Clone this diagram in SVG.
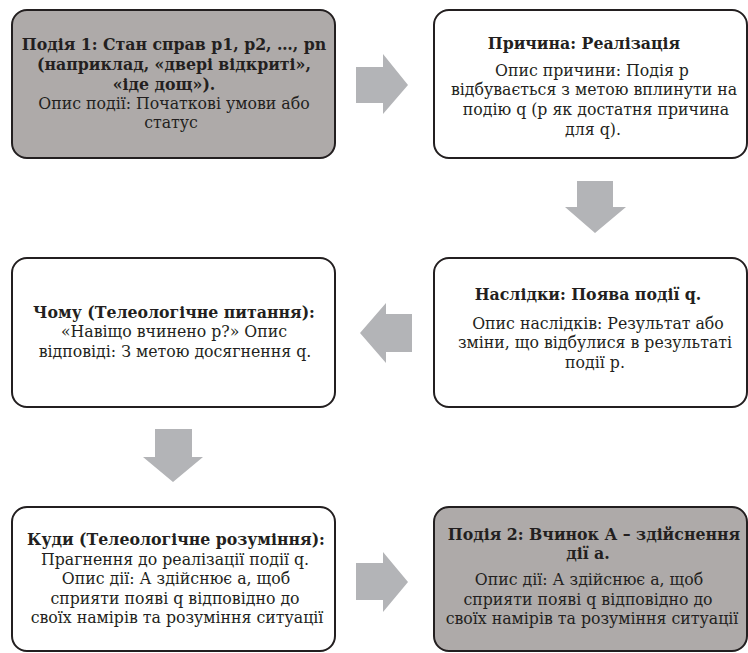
<svg xmlns="http://www.w3.org/2000/svg" width="748" height="653" viewBox="0 0 748 653">
<style>
.box{stroke:#231f20;stroke-width:2;}
.grey{fill:#aeaaa9;}
.white{fill:#ffffff;}
.arrow{fill:#b3b4b7;}
text{font-family:"DejaVu Serif Condensed","DejaVu Serif",serif;font-size:17.5px;fill:#231f20;text-anchor:middle;}
.b{font-weight:bold;}
</style>
<rect width="748" height="653" fill="#ffffff"/>
<g id="connectors">
<polygon class="arrow" points="356,67 383,67 383,54 408,85 383,114 383,103 356,103"/>
<polygon class="arrow" points="577,181 613,181 613,207 626,207 595,233 565,207 577,207"/>
<polygon class="arrow" points="412,314 386,314 386,303 360,333 386,363 386,352 412,352"/>
<polygon class="arrow" points="155,429 192,429 192,457 203,457 173,482 143,457 155,457"/>
<polygon class="arrow" points="356,563 383,563 383,552 408,582 383,612 383,600 356,600"/>
</g>
<g id="event1">
<rect class="box grey" x="12" y="10" width="323" height="148" rx="15"/>
<text class="b" x="174" y="50">Подія 1: Стан справ р1, р2, …, рn</text>
<text class="b" x="174" y="70">(наприклад, «двері відкриті»,</text>
<text class="b" x="164" y="90">«іде дощ»).</text>
<text x="174" y="109">Опис події: Початкові умови або</text>
<text x="171" y="128">статус</text>
</g>
<g id="cause">
<rect class="box white" x="434" y="10" width="313" height="148" rx="15"/>
<text class="b" x="584" y="49">Причина: Реалізація</text>
<text x="592" y="76">Опис причини: Подія р</text>
<text x="594" y="95">відбувається з метою вплинути на</text>
<text x="596" y="115">подію q (р як достатня причина</text>
<text x="593" y="135">для q).</text>
</g>
<g id="why">
<rect class="box white" x="12" y="258" width="323" height="149" rx="15"/>
<text class="b" x="174" y="318">Чому (Телеологічне питання):</text>
<text x="174" y="337">«Навіщо вчинено р?» Опис</text>
<text x="175" y="357">відповіді: З метою досягнення q.</text>
</g>
<g id="consequences">
<rect class="box white" x="434" y="258" width="313" height="149" rx="15"/>
<text class="b" x="588" y="300">Наслідки: Поява події q.</text>
<text x="598" y="329">Опис наслідків: Результат або</text>
<text x="595" y="348">зміни, що відбулися в результаті</text>
<text x="595" y="368">події р.</text>
</g>
<g id="where">
<rect class="box white" x="12" y="507" width="323" height="144" rx="15"/>
<text class="b" x="176" y="545">Куди (Телеологічне розуміння):</text>
<text x="175" y="565">Прагнення до реалізації події q.</text>
<text x="176" y="584">Опис дії: А здійснює а, щоб</text>
<text x="175" y="604">сприяти появі q відповідно до</text>
<text x="177" y="623">своїх намірів та розуміння ситуації</text>
</g>
<g id="event2">
<rect class="box grey" x="434" y="507" width="313" height="144" rx="15"/>
<text class="b" x="594" y="540">Подія 2: Вчинок А – здійснення</text>
<text class="b" x="588" y="559">дії а.</text>
<text x="589" y="585">Опис дії: А здійснює а, щоб</text>
<text x="588" y="605">сприяти появі q відповідно до</text>
<text x="592" y="624">своїх намірів та розуміння ситуації</text>
</g>
</svg>
